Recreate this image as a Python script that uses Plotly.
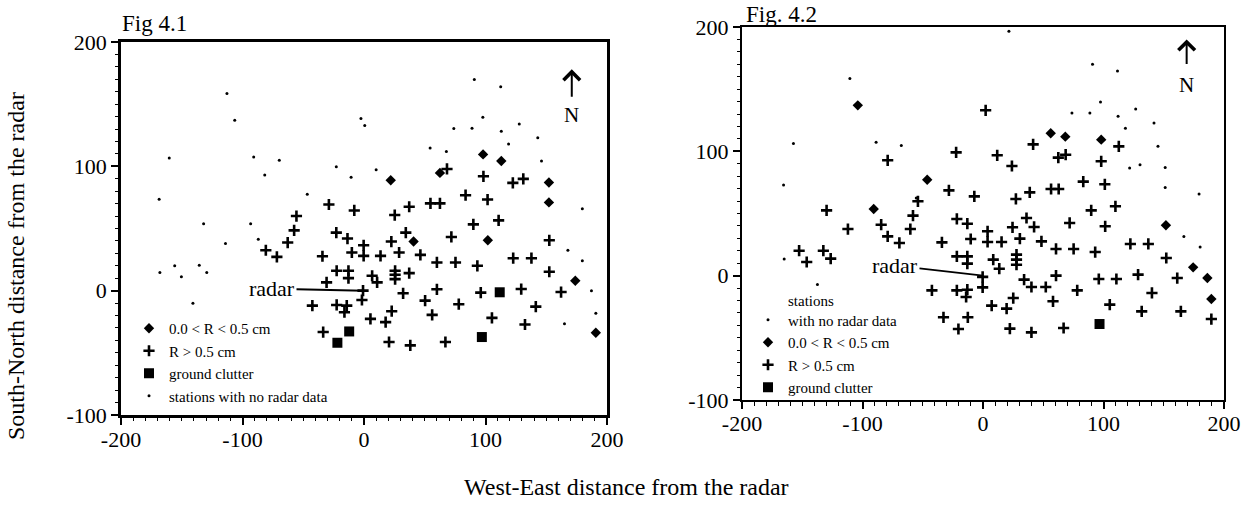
import plotly.graph_objects as go

# ---------------- Fig 4.1 data (km) ----------------
f1_plus_x = [-28.9, -8, -55.6, -57.5, -62.8, -80.8, -71.7, -34.2, -22.8, -13.6, -10, -0.3, -0.3, -22.5, -12.8, -12.8,
             -30.8, -0.8, -1.7, -42.5, -22.5, -14.2, -16.1, -33.6,
             68.3, 98.3, 122.5, 131.1, 83.6, 101.7, 37.2, 54.7, 62.5,
             25.3, 90, 110.8, 13.6, 22.5, 34.4, 28.9, 46.4, 60, 75.3, 93.3, 71.9, 122.8, 137.8, 152.5, 152.5,
             6.7, 10.8, 25.6, 25.6, 25.6, 37.2, 32.2, 60, 50.3, 96.1, 129.4, 162.2, 78, 141.4,
             5.3, 17.8, 22.8, 56.1, 105.3, 132.5, 20.6, 38.1, 67]
f1_plus_y = [69.3, 64.5, 60, 48.5, 38.7, 32.5, 27.2, 27.7, 46.7, 41.9, 30.7, 36.5, 28, 16, 16, 10.1,
             6.7, 0, -7.5, -12, -11.5, -12, -17.3, -33.3,
             97.9, 92, 86.7, 89.9, 76.8, 73.3, 67.5, 70.2, 70.2,
             60.8, 53.3, 56.5, 28, 39.5, 46.7, 30.7, 28.8, 22.7, 22.7, 20, 43.2, 26.1, 26.1, 40.5, 15.2,
             12, 6.7, 16, 12.8, 9.3, 14.1, -2.1, 1.1, -8, -1.6, 1.3, -1.1, -10.9, -12.8,
             -22.7, -25.3, -16.5, -19.5, -21.9, -27.2, -41.3, -44, -41.3]
f1_dia_x = [98, 113, 22, 62.5, 152.2, 152.2, 40.8, 101.9, 173.9, 190.8]
f1_dia_y = [109.6, 104.3, 88.8, 94.7, 87, 71, 39.5, 40.5, 8, -33.8]
f1_sq_x = [-12.2, -21.9, 111.7, 97]
f1_sq_y = [-32.8, -41.9, -1.3, -37.3]
f1_dot_x = [-112.8, -106.4, -160.3, -90.8, -69.7, -81.7, -22.8, -10.6, -2.5, 0.6, -168.6, -46.7,
            90.8, 112.5, 97.8, 73.9, 88.9, 113, 127.8, 143, 119, 54.4, 67.8, 146.1, 10, 179.7,
            -132, -93.3, -114, -87, -168, -155.8, -150.3, -135.6, -129.4, -140.8,
            167.8, 179.7, 187.2, 190.8, 165]
f1_dot_y = [158.6, 137, 106.7, 107.5, 104.8, 93, 99.7, 91.2, 138.4, 132.8, 73.6, 77.6,
            169.9, 164, 139.5, 130.4, 130.6, 128.3, 134.1, 122.9, 117.9, 114.7, 112, 104.3, 97.3, 65.9,
            53.9, 53.9, 37.9, 41.3, 14.7, 20, 11.2, 20.5, 14.7, -10.1,
            32.5, 24, 0, -18.1, -26.7]

# ---------------- Fig 4.2 data (km) ----------------
f2_plus_x = [-79.1, -22.3, -28.3, -7.2, 2.2, 41.6, 11.8, 24, 62.5, 68.6, 98.1, 112.7, 83.2, 101.1, 27.3, 38.8, 56.5, 62.8,
             -129.8, -112.1, -84.5, -79.1, -69.4, -60.3, -58.1, -54, -152.6, -146.3, -132.5, -126.4,
             -34.1, -21.7, -13, -10.2, -21.7, -13, -13, -42.4, -21.7, -13, -14, -32.8, -12.6, -20.4,
             89.8, 109.9, 3.8, 3.8, 15.4, 24.5, 36.1, 42.4, 30.6, 48.5, 71.9, 101.4, 60.6, 75.2, 93.1,
             122.3, 137.2, 152.1, 8.5, 13.5, 27.8, 27.8, 27.8, -0.3, -0.3, 34.1, 40.2, 52.1, 60.6, 78.2,
             96.1, 110.7, 128.7, 140.2, 161.2, 7.2, 19.6, 25.1, 58.1, 105.2, 131.7, 164.2, 189.5,
             22.3, 40.2, 66.9]
f2_plus_y = [92.8, 99.2, 68.6, 63.8, 133, 105.6, 96.8, 88.2, 94.9, 97.3, 92, 104, 75.6, 73.5, 61.7, 67, 69.7, 69.7,
             52.5, 37.5, 41, 31.6, 26.3, 37.5, 48.3, 59.8, 20.1, 11, 20.1, 13.7,
             26.8, 45.6, 41.8, 29.5, 15.5, 15.5, 9.7, -11.8, -11.8, -11.3, -17.1, -33.5, -33.5, -42.9,
             52.5, 55.8, 35.7, 27.1, 27.1, 38.9, 46.4, 39.2, 29.8, 27.6, 42.4, 39.7, 21.5, 21.5, 19,
             25.5, 25.5, 14.2, 12.9, 5.6, 16.9, 12.9, 8.8, -1, -9.4, -3.2, -9.1, -9.1, 0, -11.8,
             -2.7, -2.7, 0.8, -13.9, -1.9, -24.1, -26.5, -18, -20.6, -23.3, -28.7, -28.7, -34.9,
             -42.6, -45.6, -42.1]
f2_dia_x = [-103.9, -46.3, 56.2, 68.3, 98.1, -90.7, 151.8, 174.4, 186.2, 189.5]
f2_dia_y = [137, 77.2, 114.5, 111.8, 109.4, 53.6, 40.5, 6.7, -1.9, -18.8]
f2_sq_x = [96.7]
f2_sq_y = [-38.9]
f2_dot_x = [21.5, -110.5, -157.3, -88.7, -67.8, -165.5, -55.4, 90.9, 111.6, 97.5, 73.8, 88.7, 112.1, 126.7,
            141.9, 118.2, 145.2, 121.7, 130.3, 151.2, 151.2, 179.3, -165, 166.7, 180.2, -137.4]
f2_dot_y = [196.5, 158.5, 106.2, 107.3, 104.6, 73, 62.5, 170, 164.7, 139.7, 130.9, 130.9, 128.2, 134.1,
            122.8, 118.5, 104, 86.6, 89.3, 86.9, 71, 65.7, 13.4, 31.6, 23.1, -7.2]

tick_vals_x = [-200, -100, 0, 100, 200]
tick_text_x = ["-200", "-100", "0", "100", "200"]
tick_vals_y = [-100, 0, 100, 200]
tick_text_y = ["-100", "0", "100", "200"]

SERIF = "Liberation Serif"
BLACK = "black"

plus_m = dict(symbol="cross-thin", size=8, color=BLACK, line=dict(width=2.6, color=BLACK))
dia_m = dict(symbol="diamond", size=8, color=BLACK)
sq_m = dict(symbol="square", size=10, color=BLACK)
dot_m = dict(symbol="circle", size=3, color=BLACK)

fig = go.Figure()

# Fig 4.1 traces (legend order: diamond, plus, square, dot)
fig.add_trace(go.Scatter(x=f1_dia_x, y=f1_dia_y, mode="markers", marker=dia_m, name="0.0 < R < 0.5 cm",
                         xaxis="x", yaxis="y", legend="legend"))
fig.add_trace(go.Scatter(x=f1_plus_x, y=f1_plus_y, mode="markers", marker=plus_m, name="R > 0.5 cm",
                         xaxis="x", yaxis="y", legend="legend"))
fig.add_trace(go.Scatter(x=f1_sq_x, y=f1_sq_y, mode="markers", marker=sq_m, name="ground clutter",
                         xaxis="x", yaxis="y", legend="legend"))
fig.add_trace(go.Scatter(x=f1_dot_x, y=f1_dot_y, mode="markers", marker=dot_m, name="stations with no radar data",
                         xaxis="x", yaxis="y", legend="legend"))

# Fig 4.2 traces (legend order: dot, diamond, plus, square)
fig.add_trace(go.Scatter(x=f2_dot_x, y=f2_dot_y, mode="markers", marker=dot_m, name="stations<br>with no radar data",
                         xaxis="x2", yaxis="y2", legend="legend2"))
fig.add_trace(go.Scatter(x=f2_dia_x, y=f2_dia_y, mode="markers", marker=dia_m, name="0.0 < R < 0.5 cm",
                         xaxis="x2", yaxis="y2", legend="legend2"))
fig.add_trace(go.Scatter(x=f2_plus_x, y=f2_plus_y, mode="markers", marker=plus_m, name="R > 0.5 cm",
                         xaxis="x2", yaxis="y2", legend="legend2"))
fig.add_trace(go.Scatter(x=f2_sq_x, y=f2_sq_y, mode="markers", marker=sq_m, name="ground clutter",
                         xaxis="x2", yaxis="y2", legend="legend2"))

W, H = 1253, 522


def px(v):
    return v / W


def py(v):
    return 1 - v / H


def axis_common(vals, text, lw):
    return dict(
        tickvals=vals, ticktext=text, ticks="outside", ticklen=7, tickwidth=1.5, tickcolor=BLACK,
        minor=dict(dtick=10, ticks="outside", ticklen=3.5, tickwidth=1, tickcolor=BLACK),
        showline=True, linewidth=lw, linecolor=BLACK, mirror=True,
        showgrid=False, zeroline=False, automargin=False,
        tickfont=dict(family=SERIF, size=22, color=BLACK),
    )


x1 = axis_common(tick_vals_x, tick_text_x, 2.5)
x1.update(range=[-200, 200], domain=[px(121), px(607)], anchor="y", ticklabelstandoff=-4)
y1 = axis_common(tick_vals_y, tick_text_y, 2.5)
y1.update(range=[-100, 200], domain=[py(415), py(42)], anchor="x")
x2 = axis_common(tick_vals_x, tick_text_x, 2)
x2.update(range=[-200, 200], domain=[px(742), px(1224)], anchor="y2", ticklabelstandoff=-4)
y2 = axis_common(tick_vals_y, tick_text_y, 2)
y2.update(range=[-100, 200], domain=[py(400), py(27)], anchor="x2")

leg_font = dict(family=SERIF, size=15, color=BLACK)

fig.update_layout(
    width=W, height=H,
    margin=dict(l=0, r=0, t=0, b=0, pad=0, autoexpand=False),
    paper_bgcolor="white", plot_bgcolor="white",
    xaxis=x1, yaxis=y1, xaxis2=x2, yaxis2=y2,
    showlegend=True,
    legend=dict(x=px(129), y=py(312), xanchor="left", yanchor="top", bgcolor="rgba(0,0,0,0)",
                font=leg_font, tracegroupgap=0, itemwidth=30),
    legend2=dict(x=px(748), y=py(284), xanchor="left", yanchor="top", bgcolor="rgba(0,0,0,0)",
                 font=leg_font, tracegroupgap=0, itemwidth=30, valign="bottom"),
    annotations=[
        dict(text="Fig 4.1", x=px(120), y=py(23), xref="paper", yref="paper", xanchor="left", yanchor="middle",
             showarrow=False, font=dict(family=SERIF, size=23, color=BLACK)),
        dict(text="Fig. 4.2", x=px(744), y=py(14), xref="paper", yref="paper", xanchor="left", yanchor="middle",
             showarrow=False, font=dict(family=SERIF, size=23, color=BLACK)),
        dict(text="South-North distance from the radar", x=px(16), y=py(266), xref="paper", yref="paper",
             textangle=-90, showarrow=False, xanchor="center", yanchor="middle",
             font=dict(family=SERIF, size=24, color=BLACK)),
        dict(text="West-East distance from the radar", x=px(626), y=py(487), xref="paper", yref="paper",
             showarrow=False, xanchor="center", yanchor="middle",
             font=dict(family=SERIF, size=24, color=BLACK)),
        # radar pointers
        dict(text="radar", x=0, y=0, xref="x", yref="y", ax=-92, ay=-2, showarrow=True, arrowhead=0,
             arrowwidth=2, arrowcolor=BLACK, standoff=0, font=dict(family=SERIF, size=22, color=BLACK)),
        dict(text="radar", x=0, y=0, xref="x2", yref="y2", ax=-88, ay=-10, showarrow=True, arrowhead=0,
             arrowwidth=1.8, arrowcolor=BLACK, standoff=0, font=dict(family=SERIF, size=22, color=BLACK)),
        # north arrows
        dict(text="", x=171, y=178, xref="x", yref="y", ax=0, ay=29, showarrow=True, arrowhead=4,
             arrowsize=1.6, arrowwidth=2, arrowcolor=BLACK),
        dict(text="N", x=171, y=141, xref="x", yref="y", showarrow=False,
             font=dict(family=SERIF, size=21, color=BLACK)),
        dict(text="", x=169, y=190, xref="x2", yref="y2", ax=0, ay=26, showarrow=True, arrowhead=4,
             arrowsize=1.6, arrowwidth=2, arrowcolor=BLACK),
        dict(text="N", x=169, y=153, xref="x2", yref="y2", showarrow=False,
             font=dict(family=SERIF, size=21, color=BLACK)),
    ],
)

fig.write_html("out.html")
